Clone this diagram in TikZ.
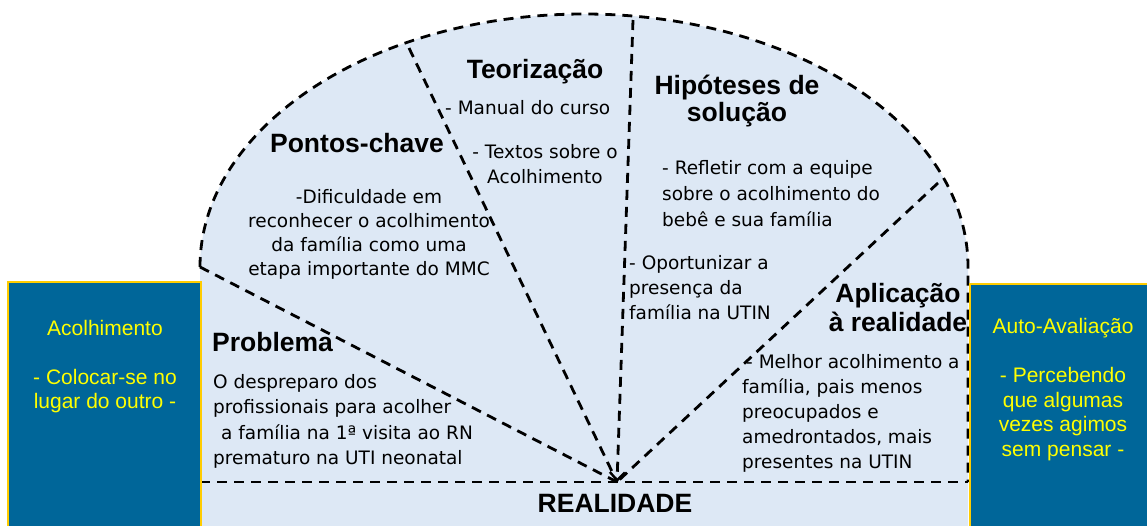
\documentclass[tikz,border=0pt]{standalone}
\usepackage{fontspec}
\setmainfont{Liberation Sans}
\newfontfamily\bodyfont{DejaVu Sans}
\usetikzlibrary{arrows.meta}
\definecolor{bgblue}{RGB}{221,232,245}
\definecolor{boxblue}{RGB}{0,102,153}
\definecolor{boxgold}{RGB}{255,204,0}
\definecolor{txtyellow}{RGB}{255,255,0}
\tikzset{
  dline/.style={line width=2.8pt, dash pattern=on 10pt off 7pt, black},
  head/.style={inner sep=0pt, font=\fontsize{26.5}{28}\selectfont\bfseries, align=center},
  body/.style={inner sep=0pt, font=\bodyfont\fontsize{18.5}{25}\selectfont},
  sidebox/.style={draw=boxgold, line width=1.5pt, fill=boxblue},
  sidetext/.style={inner sep=0pt, text=txtyellow, font=\fontsize{21}{24.5}\selectfont, align=center}
}
\begin{document}
\begin{tikzpicture}[x=1pt,y=-1pt]
\useasboundingbox (0,0) rectangle (1147,525);
% background shape
\fill[bgblue] (200,530) -- (200,267) .. controls (200,127.3) and (371.9,14) .. (584,14)
  .. controls (796.1,14) and (968,127.3) .. (968,267) -- (968,530) -- cycle;
% outline
\draw[dline] (200,267) .. controls (200,127.3) and (371.9,14) .. (584,14)
  .. controls (796.1,14) and (968,127.3) .. (968,267) -- (968,482);
\coordinate (c) at (617,482);
\coordinate (p1) at (200,267);
\coordinate (p2) at (409,48);
\coordinate (p3) at (633,20);
\coordinate (p4) at (938,183);
\coordinate (bl) at (200,482);
\coordinate (br) at (968,482);
\draw[dline] (bl) -- (br);
\draw[dline] (p1) -- (c);
\draw[dline] (p2) -- (c);
\draw[dline] (p4) -- (c);
\draw[dline, -{Straight Barb[length=8pt,width=15pt,line width=2.4pt]}] (p3) -- (c);
% texts
\node[head] (teo) at (535,72) {Teoriza\c{c}\~ao};
\node[body, anchor=west] (man) at (445,108) {- Manual do curso};
\node[body, align=center] (tex) at (545,164.5) {- Textos sobre o\\Acolhimento};
\node[head] (pon) at (357,143) {Pontos-chave};
\node[body, align=center, font=\bodyfont\fontsize{18.5}{24}\selectfont] (dif) at (369,234) {-Dificuldade em\\reconhecer o acolhimento\\da fam\'ilia como uma\\etapa importante do MMC};
\node[head, font=\fontsize{26.5}{27}\selectfont\bfseries] (hip) at (737,101.5) {Hip\'oteses de\\solu\c{c}\~ao};
\node[body, anchor=west, align=left, font=\bodyfont\fontsize{18.5}{26}\selectfont] (ref) at (662,194) {- Refletir com a equipe\\sobre o acolhimento do\\beb\^e e sua fam\'ilia};
\node[body, anchor=west, align=left] (opo) at (629,288) {- Oportunizar a\\presen\c{c}a da\\fam\'ilia na UTIN};
\node[head, font=\fontsize{26.5}{29}\selectfont\bfseries] (apl) at (898,307.5) {Aplica\c{c}\~ao\\\`a realidade};
\node[body, anchor=west, align=left] (mel) at (742,413) {\hspace*{4pt}- Melhor acolhimento a\\fam\'ilia, pais menos\\preocupados e\\amedrontados, mais\\presentes na UTIN};
\node[head, anchor=west] (pro) at (212,342) {Problema};
\node[body, anchor=west, align=left, font=\bodyfont\fontsize{18.5}{25.5}\selectfont] (des) at (213,421.5) {O despreparo dos\\profissionais para acolher\\\hspace*{8pt}a fam\'ilia na 1\textordfeminine{} visita ao RN\\prematuro na UTI neonatal};
\node[head] (rea) at (615,503) {REALIDADE};
% side boxes
\draw[sidebox] (8,282) rectangle (201,530);
\node[sidetext] (aco) at (105,366.5) {Acolhimento\\\mbox{}\\- Colocar-se no\\lugar do outro -};
\draw[sidebox] (970,284) rectangle (1152,530);
\node[sidetext] (aut) at (1063,389.5) {Auto-Avalia\c{c}\~ao\\\mbox{}\\- Percebendo\\que algumas\\vezes agimos\\sem pensar -};
\end{tikzpicture}
\end{document}
